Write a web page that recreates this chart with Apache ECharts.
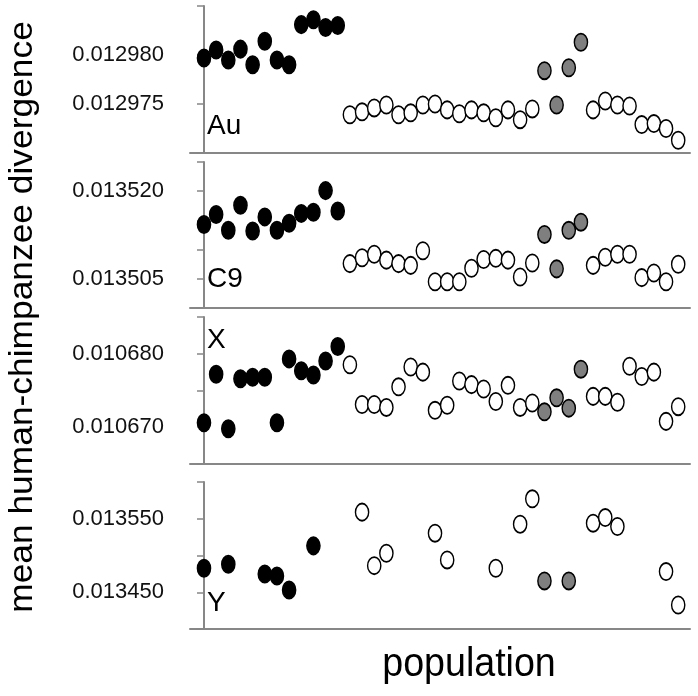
<!DOCTYPE html>
<html>
<head>
<meta charset="utf-8">
<script src="https://cdn.jsdelivr.net/npm/echarts@6/dist/echarts.min.js"></script>
<style>html,body{margin:0;padding:0;background:#fff}#c{width:698px;height:696px}</style>
</head>
<body>
<div id="c"></div>
<script>
// population index along the x axis
const popIndex = [0,1,2,3,4,5,6,7,8,9,10,11,12,13,14,15,16,17,18,19,20,21,22,23,24,25,26,27,28,29,30,31,32,33,34,35,36,37,38,39];
// group of each population: b = black, w = white, g = grey
const groups = ['b','b','b','b','b','b','b','b','b','b','b','b',
  'w','w','w','w','w','w','w','w','w','w','w','w','w','w','w','w',
  'g','g','g','g',
  'w','w','w','w','w','w','w','w'];

const auValues = [0.0129797,0.0129805,0.0129795,0.0129806,0.0129790,0.0129814,0.0129795,0.0129790,0.0129831,0.0129836,0.0129828,0.0129830,
  0.0129739,0.0129742,0.0129746,0.0129749,0.0129739,0.0129741,0.0129749,0.0129750,0.0129744,0.0129740,0.0129744,0.0129741,0.0129736,0.0129744,0.0129734,0.0129745,
  0.0129784,0.0129749,0.0129787,0.0129813,
  0.0129744,0.0129753,0.0129749,0.0129748,0.0129729,0.0129730,0.0129725,0.0129713];
const c9Values = [0.0135143,0.0135160,0.0135133,0.0135176,0.0135132,0.0135156,0.0135133,0.0135145,0.0135162,0.0135164,0.0135201,0.0135166,
  0.0135076,0.0135086,0.0135092,0.0135082,0.0135076,0.0135073,0.0135098,0.0135045,0.0135045,0.0135045,0.0135068,0.0135083,0.0135085,0.0135082,0.0135053,0.0135077,
  0.0135126,0.0135067,0.0135133,0.0135147,
  0.0135073,0.0135087,0.0135092,0.0135092,0.0135052,0.0135060,0.0135045,0.0135075];
const xValues = [0.0106706,0.0106772,0.0106698,0.0106766,0.0106768,0.0106768,0.0106706,0.0106793,0.0106777,0.0106771,0.0106790,0.0106810,
  0.0106785,0.0106731,0.0106731,0.0106727,0.0106755,0.0106782,0.0106775,0.0106723,0.0106730,0.0106763,0.0106758,0.0106752,0.0106735,0.0106757,0.0106727,0.0106733,
  0.0106721,0.0106740,0.0106726,0.0106779,
  0.0106742,0.0106742,0.0106734,0.0106783,0.0106769,0.0106775,0.0106708,0.0106728];
const yValues = [0.0134827,null,0.0134881,null,null,0.0134749,0.0134722,0.0134531,null,0.0135131,null,null,
  null,0.0135590,0.0134862,0.0135031,null,null,null,0.0135304,0.0134940,null,null,null,0.0134827,null,0.0135426,0.0135771,
  0.0134654,null,0.0134654,null,
  0.0135440,0.0135516,0.0135394,null,null,null,0.0134781,0.0134327];

const panelNames = ['Au','C9','X','Y'];
const panelValues = [auValues, c9Values, xValues, yValues];
const axisMin = [0.012970, 0.013500, 0.010665, 0.013400];
const axisMax = [0.012985, 0.013525, 0.010685, 0.013600];
const axisStep = [0.000005, 0.000005, 0.000005, 0.00005];
const shownTicks = [['0.012980','0.012975'],['0.013520','0.013505'],['0.010680','0.010670'],['0.013550','0.013450']];

const gridTops = [6, 162, 317, 482];
const gridHeights = [147, 146, 147, 147];
const labelCenters = [128, 281, 342, 605];

const fillOf = {b:'#000000', w:'#ffffff', g:'#7f7f7f'};
const axisGray = '#878787';

const grids = [], xAxes = [], yAxes = [], series = [], graphics = [];
panelNames.forEach((name, p) => {
  grids.push({left:190, right:8, top:gridTops[p], height:gridHeights[p]});
  xAxes.push({type:'value', gridIndex:p, min:-1.15, max:39.97,
    axisLine:{show:true, onZero:false, lineStyle:{color:axisGray, width:2}},
    axisTick:{show:false}, axisLabel:{show:false}, splitLine:{show:false}});
  yAxes.push({type:'value', gridIndex:p, min:axisMin[p], max:axisMax[p], interval:axisStep[p],
    axisLine:{show:true, lineStyle:{color:axisGray, width:2}},
    axisTick:{show:true, length:7, lineStyle:{color:axisGray, width:1.5}},
    splitLine:{show:false},
    axisLabel:{margin:26, color:'#111', fontSize:22, fontFamily:'Liberation Sans, Arial',
      formatter: v => { const s = Number(v).toFixed(6); return shownTicks[p].includes(s) ? s : ''; }}});
  ['b','w','g'].forEach(g => {
    const data = [];
    popIndex.forEach((ix, k) => {
      if (groups[k] === g && panelValues[p][k] !== null) data.push([ix, panelValues[p][k]]);
    });
    series.push({type:'scatter', xAxisIndex:p, yAxisIndex:p, data:data,
      symbol:'circle', symbolSize:[13.2,17.2], silent:true,
      itemStyle:{color:fillOf[g], borderColor:'#000', borderWidth:1.6, opacity:1}});
  });
  graphics.push({type:'text', left:207, top:labelCenters[p]-16,
    style:{text:name, font:'28px "Liberation Sans", Arial', fill:'#000'}});
});
graphics.push({type:'text', x:469, y:685, style:{text:'population', font:'40px "Liberation Sans", Arial', fill:'#000', textAlign:'center', textVerticalAlign:'bottom'}, scaleX:0.94});
graphics.push({type:'text', x:23, y:317, rotation:Math.PI/2, style:{text:'mean human-chimpanzee divergence', font:'34px "Liberation Sans", Arial', fill:'#000', textAlign:'center', textVerticalAlign:'middle'}, scaleX:1.04});

const chart = echarts.init(document.getElementById('c'), null, {renderer:'canvas'});
chart.setOption({animation:false, backgroundColor:'#fff', grid:grids, xAxis:xAxes, yAxis:yAxes, series:series, graphic:graphics});
</script>
</body>
</html>
